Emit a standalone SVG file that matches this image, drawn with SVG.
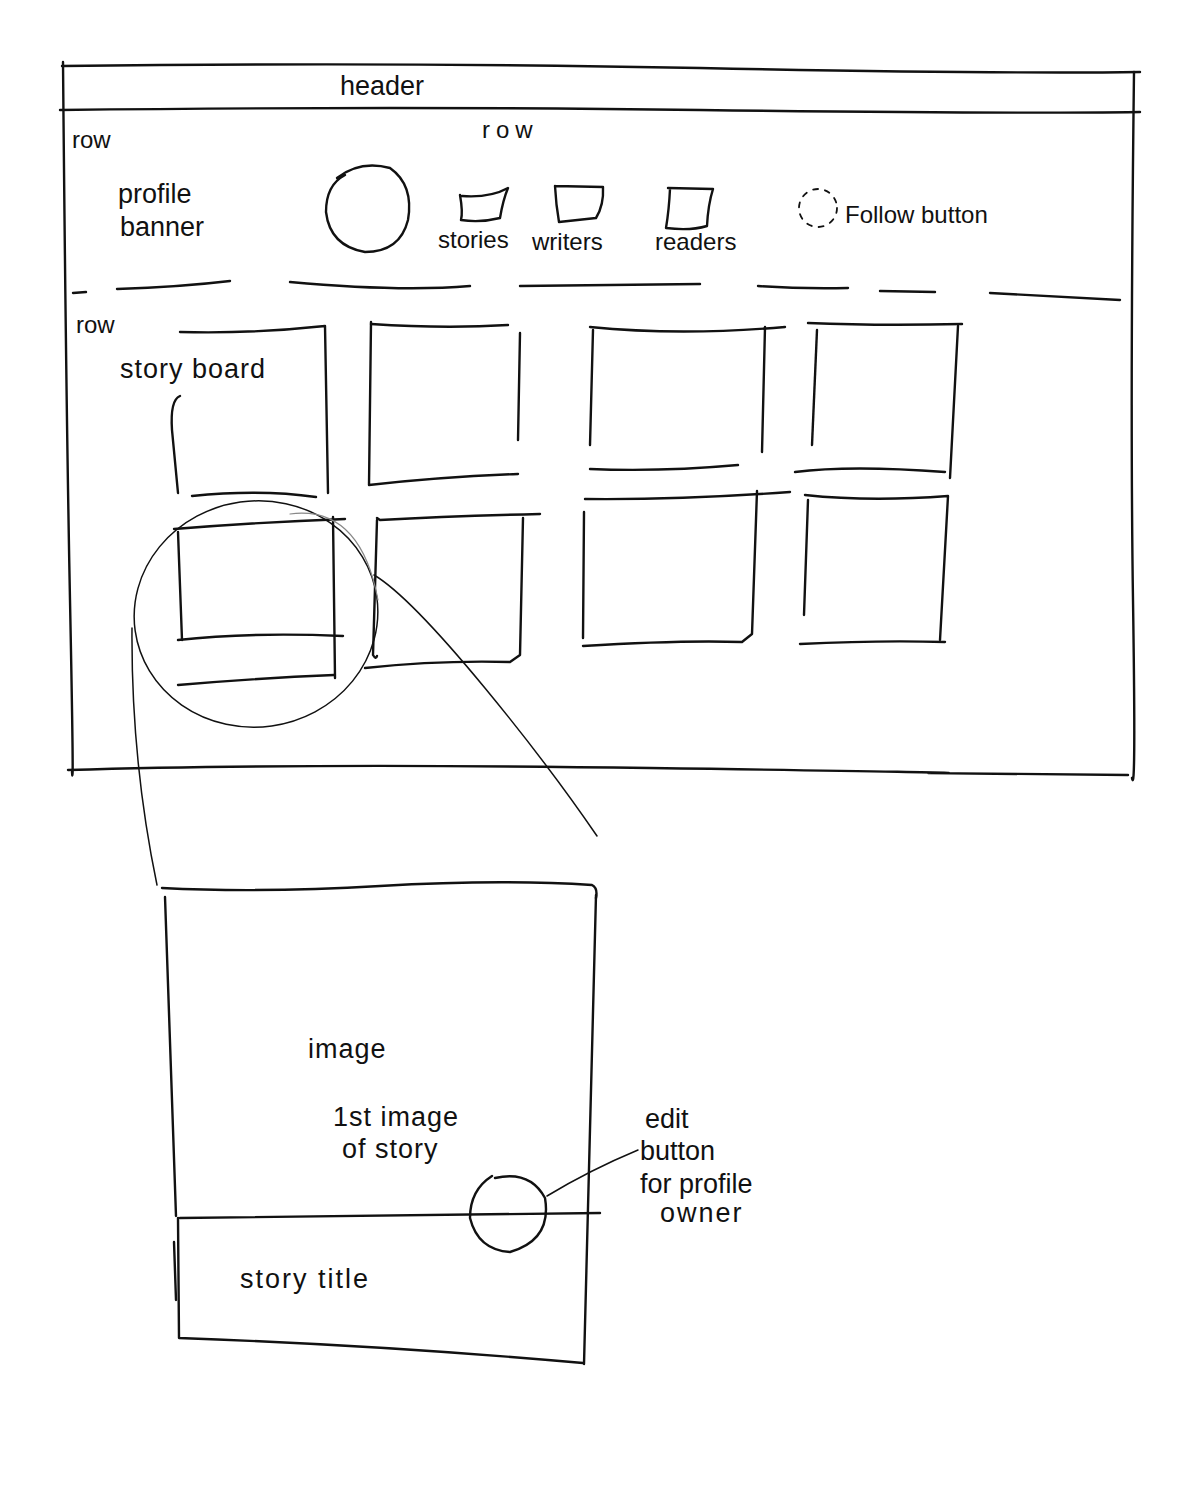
<svg xmlns="http://www.w3.org/2000/svg" width="1200" height="1500" viewBox="0 0 1200 1500">
  <style>
    .ink { fill: none; stroke: #111; stroke-width: 2.4; stroke-linecap: round; stroke-linejoin: round; }
    .thin { fill: none; stroke: #111; stroke-width: 1.5; stroke-linecap: round; }
    .faint { fill: none; stroke: #888; stroke-width: 1.2; stroke-linecap: round; }
    .dash { fill: none; stroke: #111; stroke-width: 1.8; stroke-dasharray: 5 7; stroke-linecap: round; }
    .lbl { font-family: "Liberation Sans", Arial, sans-serif; font-size: 27px; fill: #111; }
    .lbl-s { font-family: "Liberation Sans", Arial, sans-serif; font-size: 24px; fill: #111; }
  </style>
  <rect width="1200" height="1500" fill="#fff"/>

  <!-- page frame -->
  <g id="page-frame">
    <path class="ink" d="M62 66 Q400 62 700 68 T1140 72"/>
    <path class="ink" d="M63 62 Q66 400 70 600 T72 772"/>
    <path class="ink" d="M1134 72 Q1130 400 1133 600 T1132 778"/>
    <path class="ink" d="M60 110 Q400 106 700 110 T1140 112"/>
    <path class="ink" d="M68 770 Q300 763 650 768 T940 773 T1128 775"/>
  </g>

  <!-- header bar -->
  <g id="header">
    <text class="lbl" x="340" y="95">header</text>
  </g>

  <!-- profile row -->
  <g id="profile-row">
    <text class="lbl-s" x="72" y="148">row</text>
    <text class="lbl-s" x="482" y="138" letter-spacing="6">row</text>
  </g>
  <g id="profile-banner">
    <text class="lbl" x="118" y="203">profile</text>
    <text class="lbl" x="120" y="236">banner</text>
  </g>
  <g id="avatar">
    <path class="ink" d="M337 178 Q360 160 390 168 Q414 185 408 220 Q400 252 365 252 Q330 246 326 212 Q326 185 345 175"/>
  </g>
  <g id="stories">
    <path class="ink" d="M460 195 Q463 212 461 220 Q480 223 500 218 Q503 200 508 188 Q490 198 462 196"/>
    <text class="lbl-s" x="438" y="248">stories</text>
  </g>
  <g id="writers">
    <path class="ink" d="M555 186 L603 187 Q604 205 596 218 L559 222 Q556 205 555 186"/>
    <text class="lbl-s" x="532" y="250">writers</text>
  </g>
  <g id="readers">
    <path class="ink" d="M668 188 L713 189 Q708 205 707 226 Q690 231 666 228 Q669 210 670 189"/>
    <text class="lbl-s" x="655" y="250">readers</text>
  </g>
  <g id="follow-button">
    <circle class="dash" cx="818" cy="208" r="19"/>
    <text class="lbl-s" x="845" y="223">Follow button</text>
  </g>

  <!-- divider between rows -->
  <g id="row-divider">
    <path class="ink" d="M73 293 L86 292"/>
    <path class="ink" d="M117 289 Q180 287 230 281"/>
    <path class="ink" d="M290 282 Q400 292 470 286"/>
    <path class="ink" d="M520 286 Q600 285 700 284"/>
    <path class="ink" d="M758 286 Q800 289 848 288"/>
    <path class="ink" d="M880 291 L935 292"/>
    <path class="ink" d="M990 293 Q1050 296 1120 300"/>
  </g>

  <!-- story board row -->
  <g id="storyboard-row">
    <text class="lbl-s" x="76" y="333">row</text>
    <text class="lbl" x="120" y="378" letter-spacing="1">story board</text>
  </g>

  <g id="card-1">
    <path class="ink" d="M180 332 Q250 334 325 326 L328 493"/>
    <path class="ink" d="M180 396 Q170 400 172 430 L178 493"/>
    <path class="ink" d="M192 496 Q260 489 316 497"/>
  </g>
  <g id="card-2">
    <path class="ink" d="M371 324 Q445 329 508 325"/>
    <path class="ink" d="M371 322 L369 485 Q440 477 518 474"/>
    <path class="ink" d="M520 333 L518 440"/>
  </g>
  <g id="card-3">
    <path class="ink" d="M590 327 Q680 336 785 327"/>
    <path class="ink" d="M593 330 L590 445"/>
    <path class="ink" d="M765 327 L762 452"/>
    <path class="ink" d="M590 469 Q660 472 738 465"/>
  </g>
  <g id="card-4">
    <path class="ink" d="M808 323 Q880 326 962 324"/>
    <path class="ink" d="M958 326 L950 478"/>
    <path class="ink" d="M817 330 L812 445"/>
    <path class="ink" d="M795 472 Q850 465 945 472"/>
  </g>

  <g id="card-5">
    <path class="ink" d="M174 529 Q260 522 345 519"/>
    <path class="ink" d="M178 532 L182 640"/>
    <path class="ink" d="M333 517 L335 678"/>
    <path class="ink" d="M178 640 Q250 632 343 636"/>
    <path class="ink" d="M178 685 Q260 678 334 675"/>
  </g>
  <g id="card-6">
    <path class="ink" d="M377 518 L380 520 Q450 516 540 514"/>
    <path class="ink" d="M377 520 L373 655 Q376 660 377 656"/>
    <path class="ink" d="M523 518 L520 655 L510 662 Q440 660 365 668"/>
  </g>
  <g id="card-7">
    <path class="ink" d="M585 499 Q680 500 790 492"/>
    <path class="ink" d="M584 512 L583 638"/>
    <path class="ink" d="M757 491 L752 634 L742 642 Q680 640 583 646"/>
  </g>
  <g id="card-8">
    <path class="ink" d="M805 495 Q870 502 948 496 L940 640"/>
    <path class="ink" d="M808 500 L804 615"/>
    <path class="ink" d="M800 644 Q880 640 945 642"/>
  </g>

  <!-- zoom callout: circled card and leader lines -->
  <g id="connectors">
    <ellipse class="thin" cx="256" cy="614" rx="122" ry="113" transform="rotate(-8 256 614)"/>
    <path class="faint" d="M290 514 Q360 505 378 600"/>
    <path class="thin" d="M132 628 Q131 760 157 885"/>
    <path class="thin" d="M374 575 C425 605 545 760 597 836"/>
  </g>

  <!-- enlarged story card -->
  <g id="story-card">
    <path class="ink" d="M162 888 Q260 893 380 886 T592 885 Q598 888 596 898"/>
    <path class="ink" d="M165 897 L176 1216"/>
    <path class="ink" d="M174 1242 L176 1300"/>
    <path class="ink" d="M178 1218 L179 1338 Q380 1345 583 1363"/>
    <path class="ink" d="M596 895 L584 1364"/>
    <path class="ink" d="M180 1218 Q400 1216 600 1213"/>
    <text class="lbl" x="308" y="1058" letter-spacing="1">image</text>
    <text class="lbl" x="333" y="1126" letter-spacing="1">1st image</text>
    <text class="lbl" x="342" y="1158" letter-spacing="1">of story</text>
    <text class="lbl" x="240" y="1288" letter-spacing="2">story title</text>
  </g>

  <g id="edit-button">
    <path class="ink" d="M495 1178 Q530 1170 545 1198 Q552 1240 510 1252 Q478 1250 470 1218 Q470 1190 492 1176"/>
    <path class="thin" d="M547 1196 Q590 1170 638 1150"/>
    <text class="lbl" x="645" y="1128">edit</text>
    <text class="lbl" x="640" y="1160">button</text>
    <text class="lbl" x="640" y="1193">for profile</text>
    <text class="lbl" x="660" y="1222" letter-spacing="2">owner</text>
  </g>
</svg>
